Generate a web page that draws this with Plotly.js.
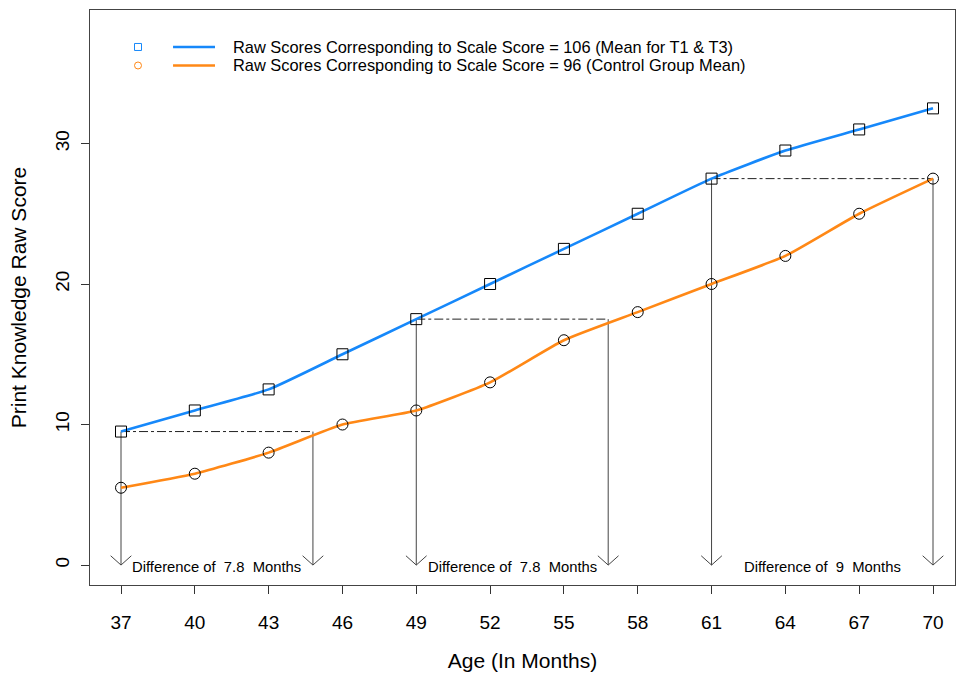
<!DOCTYPE html>
<html>
<head>
<meta charset="utf-8">
<script src="https://cdn.plot.ly/plotly-3.0.1.min.js"></script>
<style>html,body{margin:0;padding:0;background:#fff;}#chart{width:956px;height:674px;}</style>
</head>
<body>
<div id="chart"></div>
<script>
// ---- data ----
const ages = [37, 40, 43, 46, 49, 52, 55, 58, 61, 64, 67, 70];
const scoresMean106 = [9.5, 11, 12.5, 15, 17.5, 20, 22.5, 25, 27.5, 29.5, 31, 32.5];
const scoresMean96 = [5.5, 6.5, 8, 10, 11, 13, 16, 18, 20, 22, 25, 27.5];
const diffStartAges = [37, 49, 61];
const diffMonths = [7.8, 7.8, 9];
const seriesNames = [
  "Raw Scores Corresponding to Scale Score = 106 (Mean for T1 & T3)",
  "Raw Scores Corresponding to Scale Score = 96 (Control Group Mean)"
];
const yTicks = [0, 10, 20, 30];

// ---- styles ----
const blue = "rgb(22,136,250)";
const orange = "rgb(255,136,22)";
const font = "Liberation Sans, Arial, Helvetica, sans-serif";
const headHalfW = 0.42;  // months
const headH = 0.66;      // score units

const traces = [];

// dash-dot horizontal difference lines and vertical arrows
const dashX = [], dashY = [];
const arrX = [], arrY = [];
const annotations = [];
diffStartAges.forEach((a0, i) => {
  const level = scoresMean106[ages.indexOf(a0)];
  const a1 = a0 + diffMonths[i];
  dashX.push(a0, a1, null); dashY.push(level, level, null);
  [a0, a1].forEach(ax => {
    arrX.push(ax, ax, null); arrY.push(level, 0, null);
    arrX.push(ax - headHalfW, ax, ax + headHalfW, null);
    arrY.push(headH, 0, headH, null);
  });
  annotations.push({
    x: (a0 + a1) / 2, y: 0, xref: "x", yref: "y",
    text: "Difference of\u00a0\u00a0" + diffMonths[i] + "\u00a0\u00a0Months",
    showarrow: false, yanchor: "middle", yshift: -2,
    font: {family: font, size: 14.8, color: "#000"}
  });
});

traces.push({x: arrX, y: arrY, mode: "lines", type: "scatter", showlegend: false,
  line: {color: "#444", width: 1}, hoverinfo: "skip"});
traces.push({x: dashX, y: dashY, mode: "lines", type: "scatter", showlegend: false,
  line: {color: "#222", width: 1, dash: "dashdot"}, hoverinfo: "skip"});

traces.push({x: ages, y: scoresMean96, mode: "lines", type: "scatter", showlegend: false,
  line: {color: orange, width: 2.6, shape: "spline", smoothing: 0.5}});
traces.push({x: ages, y: scoresMean106, mode: "lines", type: "scatter", showlegend: false,
  line: {color: blue, width: 2.6, shape: "spline", smoothing: 0.5}});
traces.push({x: ages, y: scoresMean96, mode: "markers", type: "scatter", showlegend: false,
  marker: {symbol: "circle-open", size: 11, color: "#000", line: {width: 1, color: "#000"}}});
traces.push({x: ages, y: scoresMean106, mode: "markers", type: "scatter", showlegend: false,
  marker: {symbol: "square-open", size: 11, color: "#000", line: {width: 1, color: "#000"}}});

// manual legend (paper coords)
const legRows = [0.9357, 0.9035];
const legColors = [blue, orange];
const shapes = [];
legRows.forEach((ly, i) => {
  shapes.push({type: i === 0 ? "rect" : "circle", xref: "paper", yref: "paper",
    xsizemode: "pixel", ysizemode: "pixel", xanchor: 0.0555, yanchor: ly,
    x0: -3.5, x1: 3.5, y0: -3.5, y1: 3.5, line: {color: legColors[i], width: 1}});
  shapes.push({type: "line", xref: "paper", yref: "paper", x0: 0.096, x1: 0.1445, y0: ly, y1: ly,
    line: {color: legColors[i], width: 2.6}});
  annotations.push({xref: "paper", yref: "paper", x: 0.1635, y: ly, xanchor: "left", yanchor: "middle",
    text: seriesNames[i], showarrow: false, font: {family: font, size: 16.4, color: "#000"}});
});

const layout = {
  width: 956, height: 674,
  margin: {l: 90, r: 1, t: 10, b: 89},
  paper_bgcolor: "#fff", plot_bgcolor: "#fff",
  font: {family: font, color: "#000"},
  showlegend: false,
  xaxis: {
    range: [35.74, 70.894], tickvals: ages, ticktext: ages.map(String),
    ticks: "outside", ticklen: 8, tickcolor: "#333", tickwidth: 1,
    showline: true, mirror: true, linecolor: "#444", linewidth: 1.2,
    showgrid: false, zeroline: false, ticklabelstandoff: 12,
    tickfont: {family: font, size: 19, color: "#000"},
    title: {text: "Age (In Months)", font: {family: font, size: 21, color: "#000"}, standoff: 21}
  },
  yaxis: {
    range: [-1.42, 39.5], tickvals: yTicks, ticktext: yTicks.map(String),
    ticks: "outside", ticklen: 8, tickcolor: "#333", tickwidth: 1, tickangle: -90,
    showline: true, mirror: true, linecolor: "#444", linewidth: 1.2,
    showgrid: false, zeroline: false, ticklabelstandoff: 4,
    tickfont: {family: font, size: 19, color: "#000"},
    title: {text: "Print Knowledge Raw Score", font: {family: font, size: 21, color: "#000"}, standoff: 19}
  },
  shapes: shapes,
  annotations: annotations
};

Plotly.newPlot("chart", traces, layout, {displayModeBar: false, staticPlot: true});
</script>
</body>
</html>
